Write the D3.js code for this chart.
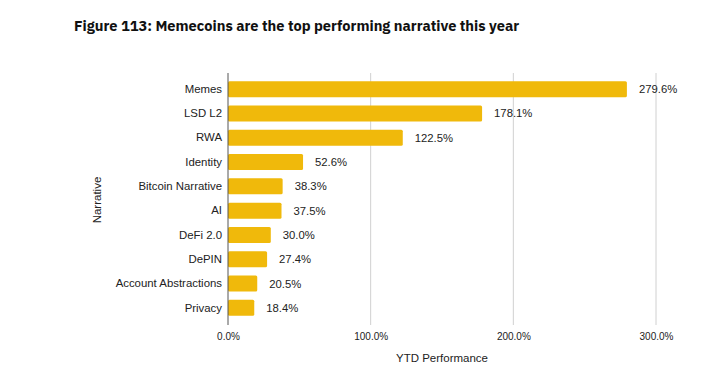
<!DOCTYPE html>
<html><head><meta charset="utf-8">
<script src="https://cdn.jsdelivr.net/npm/d3@7"></script>
<style>body{margin:0;background:#fff;}svg{display:block;}</style>
</head><body>
<svg id="c" width="720" height="385"></svg>
<script>
const categories = ["Memes","LSD L2","RWA","Identity","Bitcoin Narrative","AI","DeFi 2.0","DePIN","Account Abstractions","Privacy"];
const values = [279.6,178.1,122.5,52.6,38.3,37.5,30.0,27.4,20.5,18.4];
const tickValues = [0,100,200,300];

const svg = d3.select("#c");
const font = "'Liberation Sans', Arial, sans-serif";
const x = d3.scaleLinear().domain([0,300]).range([228,656]);
const y = d3.scaleBand().domain(categories).range([77,320]).paddingInner(0.34).paddingOuter(0.17);

svg.append("text").attr("x",74).attr("y",31).text("Figure 113: Memecoins are the top performing narrative this year")
  .attr("font-family","'IBM Plex Sans','Open Sans','DejaVu Sans',sans-serif").attr("font-weight",700).attr("font-size",14.6).attr("fill","#111");

// grid
svg.append("g").selectAll("line").data(tickValues.slice(1)).join("line")
  .attr("x1",d=>x(d)).attr("x2",d=>x(d)).attr("y1",73).attr("y2",325)
  .attr("stroke","#d0d0d0").attr("stroke-width",1);

// bars
svg.append("g").selectAll("rect").data(values).join("rect")
  .attr("x",x(0)).attr("y",(d,i)=>y(categories[i]))
  .attr("width",d=>x(d)-x(0)).attr("height",y.bandwidth())
  .attr("rx",1.5).attr("fill","#F0B90B");

// value labels
svg.append("g").selectAll("text").data(values).join("text")
  .attr("x",d=>x(d)+12).attr("y",(d,i)=>y(categories[i])+y.bandwidth()/2)
  .attr("dy","0.35em").text(d=>d.toFixed(1)+"%")
  .attr("font-family",font).attr("font-size",11.3).attr("fill","#222");

// y axis
const ya = svg.append("g").attr("transform",`translate(${x(0)},0)`)
  .call(d3.axisLeft(y).tickSize(0).tickPadding(6));
ya.select(".domain").remove();
ya.selectAll("text").attr("font-family",font).attr("font-size",11.4).attr("fill","#222");
svg.append("line").attr("x1",x(0)).attr("x2",x(0)).attr("y1",73).attr("y2",325).attr("stroke","#555").attr("stroke-width",1);

// x axis
const xa = svg.append("g").attr("transform","translate(0,325)")
  .call(d3.axisBottom(x).tickValues(tickValues).tickFormat(d=>d.toFixed(1)+"%").tickSize(0).tickPadding(8));
xa.select(".domain").remove();
xa.selectAll("text").attr("font-family",font).attr("font-size",10).attr("fill","#222");

svg.append("text").attr("x",442).attr("y",362).attr("text-anchor","middle").text("YTD Performance")
  .attr("font-family",font).attr("font-size",11.5).attr("fill","#222");
svg.append("text").attr("transform","translate(101,200) rotate(-90)").attr("text-anchor","middle").text("Narrative")
  .attr("font-family",font).attr("font-size",11.5).attr("fill","#222");
</script>
</body></html>
